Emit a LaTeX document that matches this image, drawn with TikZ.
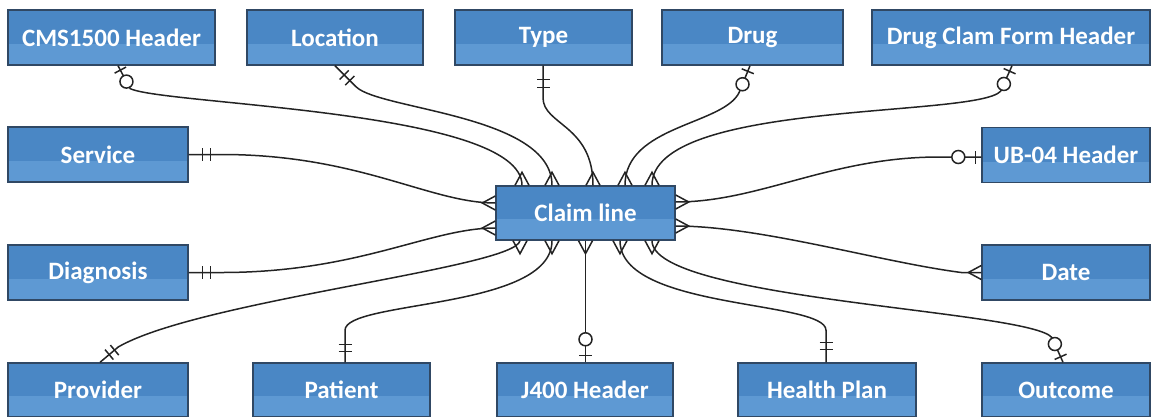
\documentclass[tikz,border=0pt]{standalone}
\usepackage{fontspec}
\setmainfont{Carlito}
\usetikzlibrary{calc}

\definecolor{boxtop}{RGB}{74,135,197}
\definecolor{boxlow}{RGB}{94,153,211}
\definecolor{boxedge}{RGB}{48,72,100}
\definecolor{wire}{RGB}{35,35,35}

\tikzset{
  entity/.style={draw=boxedge, line width=1.4pt, fill=boxtop,
    minimum height=55pt, inner sep=0pt, text=white,
    font=\fontsize{25}{28}\selectfont\bfseries,
    path picture={\fill[boxlow] (path picture bounding box.south west)
      rectangle ([yshift=21pt]path picture bounding box.south east);}},
  conn/.style={draw=wire, line width=1.5pt},
}

% ER notation marks: #1 point, #2 outward angle, #3 distance from the point
\newcommand\markbar[3]{\draw[conn] ($(#1)+(#2:#3)+(#2+90:6.5)$) -- ($(#1)+(#2:#3)+(#2-90:6.5)$);}
\newcommand\markring[3]{\draw[conn,fill=white] ($(#1)+(#2:#3)$) circle (6.5);}
\newcommand\markcrow[2]{\draw[conn] ($(#1)+(#2+90:7)$) -- ($(#1)+(#2:13)$) -- ($(#1)+(#2-90:7)$);}

\begin{document}
\begin{tikzpicture}[x=1pt,y=1pt]
\useasboundingbox (0,0) rectangle (1155,-417);

% entities
\node[entity, minimum width=207pt] (cms)   at (111.5,-37.5) {CMS1500 Header};
\node[entity, minimum width=176pt] (loc)   at (335,-37.5)   {Location};
\node[entity, minimum width=177pt] (typ)   at (543.5,-37.5) {Type};
\node[entity, minimum width=181pt] (drug)  at (752.5,-37.5) {Drug};
\node[entity, minimum width=278pt] (dcf)   at (1011,-37.5)  {Drug Clam Form Header};
\node[entity, minimum width=180pt] (serv)  at (98,-154.5)   {Service};
\node[entity, minimum width=168pt] (ub)    at (1066,-155)   {UB-04 Header};
\node[entity, minimum width=179pt, minimum height=54pt] (claim) at (585.5,-213) {Claim line};
\node[entity, minimum width=180pt] (diag)  at (98,-272.5)   {Diagnosis};
\node[entity, minimum width=168pt] (date)  at (1066,-272.5) {Date};
\node[entity, minimum width=180pt, minimum height=54pt] (prov) at (98,-390)   {Provider};
\node[entity, minimum width=177pt, minimum height=54pt] (pat)  at (341.5,-390) {Patient};
\node[entity, minimum width=176pt, minimum height=54pt] (j400) at (585,-390)   {J400 Header};
\node[entity, minimum width=178pt, minimum height=54pt] (hp)   at (827,-390)   {Health Plan};
\node[entity, minimum width=168pt, minimum height=54pt] (outc) at (1066,-390)  {Outcome};

% attachment points on the entities
\coordinate (cmsA)  at ([xshift=6.5pt]cms.south);
\coordinate (locA)  at (loc.south);
\coordinate (typA)  at ([xshift=-0.5pt]typ.south);
\coordinate (drugA) at ([xshift=-2.5pt]drug.south);
\coordinate (dcfA)  at ([xshift=1pt]dcf.south);
\coordinate (servA) at (serv.east);
\coordinate (ubA)   at ([yshift=-2pt]ub.west);
\coordinate (diagA) at (diag.east);
\coordinate (dateA) at (date.west);
\coordinate (provA) at ([xshift=2pt]prov.north);
\coordinate (patA)  at ([xshift=3.5pt]pat.north);
\coordinate (j4A)   at ([xshift=0.5pt]j400.north);
\coordinate (hpA)   at ([xshift=-1pt]hp.north);
\coordinate (outA)  at ([xshift=-3pt]outc.north);

% attachment points on the claim line
\coordinate (T1) at ([xshift=-63.5pt]claim.north);
\coordinate (T2) at ([xshift=-33.5pt]claim.north);
\coordinate (T3) at ([xshift=7.5pt]claim.north);
\coordinate (T4) at ([xshift=39.5pt]claim.north);
\coordinate (T5) at ([xshift=66.5pt]claim.north);
\coordinate (B1) at ([xshift=-65.5pt]claim.south);
\coordinate (B2) at ([xshift=-33.5pt]claim.south);
\coordinate (B3) at (claim.south);
\coordinate (B4) at ([xshift=34.5pt]claim.south);
\coordinate (B5) at ([xshift=66.5pt]claim.south);
\coordinate (L1) at ([yshift=10pt]claim.west);
\coordinate (L2) at ([yshift=-15pt]claim.west);
\coordinate (R1) at ([yshift=11pt]claim.east);
\coordinate (R2) at ([yshift=-13pt]claim.east);

% relationships
\draw[conn] (cmsA) -- ++(-62:26) .. controls (165,-105) and (522,-110) .. (T1);
\draw[conn] (locA) -- ++(-45:30) .. controls (380,-110) and (552,-115) .. (T2);
\draw[conn] (typA) -- ++(-90:32) .. controls (543,-125) and (593,-125) .. (T3);
\draw[conn] (drugA) -- ++(-112:28) .. controls (725,-125) and (625,-125) .. (T4);
\draw[conn] (dcfA) -- ++(-114:28) .. controls (975,-118) and (652,-100) .. (T5);
\draw[conn] (servA) -- ++(0:35) .. controls (360,-155) and (430,-203) .. (L1);
\draw[conn] (diagA) -- ++(0:35) .. controls (360,-272) and (430,-228) .. (L2);
\draw[conn] (ubA) -- ++(180:42) .. controls (830,-157) and (760,-202) .. (R1);
\draw[conn] (dateA) -- ++(180:20) .. controls (880,-262) and (760,-226) .. (R2);
\draw[conn] (provA) -- ++(40:24) .. controls (200,-300) and (515,-268) .. (B1);
\draw[conn] (patA) -- ++(90:32) .. controls (345,-300) and (552,-310) .. (B2);
\draw[conn] (j4A) -- (B3);
\draw[conn] (hpA) -- ++(90:32) .. controls (826,-300) and (620,-310) .. (B4);
\draw[conn] (outA) -- ++(114:27) .. controls (1030,-310) and (652,-300) .. (B5);

% many-side marks on the claim line
\foreach \p in {T1,T2,T3,T4,T5} {\markcrow{\p}{90}}
\foreach \p in {B1,B2,B3,B4,B5} {\markcrow{\p}{-90}}
\foreach \p in {L1,L2} {\markcrow{\p}{180}}
\foreach \p in {R1,R2} {\markcrow{\p}{0}}
\markcrow{dateA}{180}

% one-side marks on the entities
\markbar{cmsA}{-62}{5}   \markring{cmsA}{-62}{18}
\markbar{locA}{-45}{13}  \markbar{locA}{-45}{21}
\markbar{typA}{-90}{14}  \markbar{typA}{-90}{22}
\markbar{drugA}{-112}{6} \markring{drugA}{-112}{20}
\markbar{dcfA}{-114}{6}  \markring{dcfA}{-114}{20}
\markbar{servA}{0}{14}   \markbar{servA}{0}{22}
\markbar{diagA}{0}{14}   \markbar{diagA}{0}{22}
\markbar{ubA}{180}{6}    \markring{ubA}{180}{23}
\markbar{provA}{40}{12}  \markbar{provA}{40}{19}
\markbar{patA}{90}{11}   \markbar{patA}{90}{18}
\markbar{j4A}{90}{7}     \markring{j4A}{90}{23}
\markbar{hpA}{90}{13}    \markbar{hpA}{90}{20}
\markbar{outA}{114}{6}   \markring{outA}{114}{20}
\end{tikzpicture}
\end{document}
